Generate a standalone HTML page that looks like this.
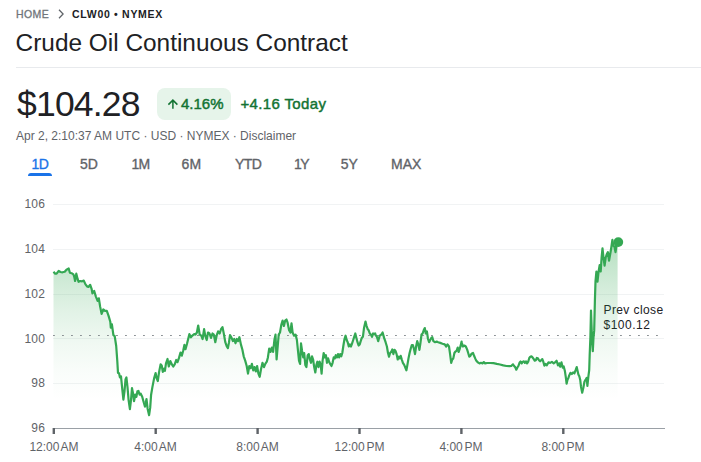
<!DOCTYPE html>
<html><head><meta charset="utf-8">
<style>
html,body{margin:0;padding:0;background:#fff;}
body{width:701px;height:462px;position:relative;overflow:hidden;font-family:"Liberation Sans",sans-serif;color:#202124;}
.a{position:absolute;white-space:nowrap;line-height:1;}
.bc{font-size:10.5px;top:9px;letter-spacing:.7px;font-weight:bold;}
.tab{font-size:14px;top:157px;color:#5f6368;-webkit-text-stroke:.35px currentColor;}
.yl{font-size:12px;color:#5f6368;text-align:right;width:45.2px;left:0;letter-spacing:.25px;}
.xl{font-size:12px;color:#5f6368;text-align:center;width:80px;top:441px;word-spacing:-1.5px;}
</style></head><body>
<span class="a bc" id="home" style="left:16px;color:#70757a;font-weight:normal;letter-spacing:.4px;-webkit-text-stroke:.3px #70757a;">HOME</span>
<svg class="a" style="left:57px;top:8px" width="9" height="12" viewBox="0 0 9 12"><path d="M2 1.8 L6.1 6 L2 10.2" fill="none" stroke="#5f6368" stroke-width="1.25"/></svg>
<span class="a bc" id="sym" style="left:72px;color:#202124;">CLW00 • NYMEX</span>
<span class="a" id="title" style="left:15.6px;top:30.6px;font-size:24.4px;color:#202124;">Crude Oil Continuous Contract</span>
<div class="a" style="left:16px;top:67px;width:685px;height:1px;background:#e8eaed;"></div>
<span class="a" id="price" style="left:17px;top:86.5px;font-size:35.5px;letter-spacing:-.8px;color:#202124;">$104.28</span>
<div class="a" style="left:157px;top:88px;width:74px;height:32px;border-radius:8px;background:#e6f4ea;"></div>
<svg class="a" style="left:166px;top:97px" width="14" height="13" viewBox="0 0 14 13"><path d="M6.9 11.8 V3.4 M2.4 7.6 L6.9 3.1 L11.4 7.6" fill="none" stroke="#137333" stroke-width="1.5"/></svg>
<span class="a" id="pct" style="left:181px;top:96px;font-size:15px;color:#137333;-webkit-text-stroke:.45px #137333;">4.16%</span>
<span class="a" id="today" style="left:240.5px;top:96px;font-size:15px;letter-spacing:.35px;color:#137333;-webkit-text-stroke:.45px #137333;">+4.16 Today</span>
<span class="a" id="sub" style="left:16px;top:130px;font-size:12px;color:#5f6368;">Apr 2, 2:10:37 AM UTC · USD · NYMEX · Disclaimer</span>
<span class="a tab" id="t1" style="left:31.6px;color:#1a73e8;letter-spacing:-.6px;">1D</span>
<div class="a" style="left:28px;top:173px;width:24px;height:3px;background:#1a73e8;border-radius:3px 3px 0 0;"></div>
<span class="a tab" id="t2" style="left:80px;">5D</span>
<span class="a tab" id="t3" style="left:131.4px;letter-spacing:-.8px;">1M</span>
<span class="a tab" id="t4" style="left:181.6px;">6M</span>
<span class="a tab" id="t5" style="left:235px;letter-spacing:-.6px;">YTD</span>
<span class="a tab" id="t6" style="left:294px;letter-spacing:-1.6px;">1Y</span>
<span class="a tab" id="t7" style="left:340.8px;">5Y</span>
<span class="a tab" id="t8" style="left:391px;">MAX</span>

<span class="a yl" style="top:198px;">106</span>
<span class="a yl" style="top:243px;">104</span>
<span class="a yl" style="top:288px;">102</span>
<span class="a yl" style="top:333px;">100</span>
<span class="a yl" style="top:377px;">98</span>
<span class="a yl" style="top:422px;">96</span>
<span class="a xl" style="left:14px;">12:00 AM</span>
<span class="a xl" style="left:115.5px;">4:00 AM</span>
<span class="a xl" style="left:217.5px;">8:00 AM</span>
<span class="a xl" style="left:319.5px;">12:00 PM</span>
<span class="a xl" style="left:421px;">4:00 PM</span>
<span class="a xl" style="left:523px;">8:00 PM</span>
<span class="a" id="pc1" style="left:603.5px;top:304px;font-size:12px;letter-spacing:.4px;color:#202124;">Prev close</span>
<span class="a" id="pc2" style="left:603.5px;top:319px;font-size:12px;letter-spacing:.5px;color:#202124;">$100.12</span>

<svg class="a" style="left:0;top:0" width="701" height="462" viewBox="0 0 701 462">
<defs><linearGradient id="g" gradientUnits="userSpaceOnUse" x1="0" y1="241" x2="0" y2="428"><stop offset="0" stop-color="#34a853" stop-opacity=".38"/><stop offset=".118" stop-color="#34a853" stop-opacity=".295"/><stop offset=".24" stop-color="#34a853" stop-opacity=".22"/><stop offset=".37" stop-color="#34a853" stop-opacity=".148"/><stop offset=".545" stop-color="#34a853" stop-opacity=".074"/><stop offset=".69" stop-color="#34a853" stop-opacity=".03"/><stop offset=".85" stop-color="#34a853" stop-opacity="0"/><stop offset="1" stop-color="#34a853" stop-opacity="0"/></linearGradient></defs>
<g stroke="#f1f3f4" stroke-width="1" shape-rendering="crispEdges">
<line x1="53" y1="204.5" x2="664" y2="204.5"/><line x1="53" y1="249.5" x2="664" y2="249.5"/><line x1="53" y1="294.5" x2="664" y2="294.5"/><line x1="53" y1="338.5" x2="664" y2="338.5"/><line x1="53" y1="383.5" x2="664" y2="383.5"/>
</g>
<line x1="52.5" y1="428.5" x2="665" y2="428.5" stroke="#9aa0a6" stroke-width="1" shape-rendering="crispEdges"/>
<g><rect x="52.6" y="428" width="2.4" height="6" fill="#5f6368"/><rect x="154.5" y="428" width="2.4" height="6" fill="#5f6368"/><rect x="256.4" y="428" width="2.4" height="6" fill="#5f6368"/><rect x="358.3" y="428" width="2.4" height="6" fill="#5f6368"/><rect x="460.2" y="428" width="2.4" height="6" fill="#5f6368"/><rect x="562.1" y="428" width="2.4" height="6" fill="#5f6368"/></g>
<!--CHART-->
<path d="M53.5,271.8 L55.2,273.7 L56.6,273.7 L58.7,270.9 L60.4,272.0 L62.5,272.3 L64.7,271.8 L66.5,269.7 L68.7,268.5 L69.9,272.8 L71.6,273.2 L73.4,274.4 L74.2,276.6 L75.1,281.0 L76.3,273.7 L77.7,279.2 L78.6,281.8 L80.3,281.0 L82.0,281.3 L83.8,280.6 L85.5,284.4 L87.2,286.5 L88.4,287.0 L90.2,284.8 L91.6,288.8 L92.4,293.4 L94.2,291.0 L95.9,296.6 L97.6,300.9 L98.8,298.3 L100.2,306.9 L101.6,313.9 L103.3,309.5 L105.1,310.8 L106.8,310.8 L108.5,315.6 L110.3,321.7 L110.8,327.6 L111.9,324.3 L113.4,335.2 L114.7,336.2 L116.2,346.0 L117.3,361.1 L118.0,373.0 L119.0,373.0 L119.9,377.4 L121.0,376.3 L122.3,389.3 L123.4,399.7 L124.5,391.4 L125.5,379.5 L126.4,377.4 L127.5,387.1 L128.6,400.1 L129.9,409.2 L131.0,400.1 L132.0,388.2 L133.1,393.6 L134.0,401.2 L135.3,394.7 L136.4,396.8 L137.4,391.4 L138.5,391.0 L139.6,394.7 L140.7,393.6 L142.2,396.8 L143.7,402.3 L145.0,406.6 L146.5,399.0 L147.6,408.7 L149.1,415.2 L150.2,407.7 L151.1,394.7 L152.4,387.1 L154.1,378.4 L155.6,373.0 L156.7,378.4 L157.8,381.0 L159.1,371.9 L160.6,364.4 L161.7,365.5 L162.8,371.9 L164.1,368.7 L164.9,370.9 L166.0,363.3 L167.5,359.0 L168.8,366.5 L170.3,361.1 L171.9,364.4 L173.2,366.5 L174.7,364.4 L176.2,360.0 L177.5,362.2 L179.0,357.9 L180.5,352.5 L181.8,355.7 L183.3,350.3 L184.4,344.9 L185.5,349.2 L187.0,343.8 L188.3,338.4 L189.4,334.1 L190.9,337.3 L192.4,335.6 L194.2,334.1 L195.4,334.6 L196.9,332.5 L198.2,325.5 L199.7,334.6 L201.3,335.7 L202.6,339.0 L204.1,329.2 L205.2,335.7 L206.7,340.0 L208.0,332.5 L209.5,333.5 L211.0,337.9 L212.5,333.5 L213.8,334.6 L215.3,342.2 L216.6,335.7 L218.1,331.4 L219.7,333.5 L221.0,329.2 L222.5,327.1 L224.0,334.6 L225.3,342.2 L226.8,346.5 L227.9,348.1 L229.0,342.2 L230.0,335.1 L231.6,337.9 L232.9,341.1 L234.2,339.0 L235.5,343.3 L236.8,339.0 L238.1,341.1 L239.4,337.2 L240.9,344.4 L242.4,349.8 L243.7,356.3 L245.2,360.6 L246.7,366.0 L248.0,373.6 L249.3,366.0 L250.6,368.2 L251.9,363.9 L253.2,370.3 L254.5,367.1 L255.8,371.4 L257.1,366.0 L258.4,373.6 L259.7,376.8 L261.0,369.3 L262.5,362.8 L264.0,367.1 L265.3,363.9 L266.8,361.7 L267.9,357.4 L269.2,348.7 L270.5,351.9 L271.8,347.6 L273.1,351.9 L274.4,340.0 L275.5,334.6 L276.6,359.5 L277.7,346.5 L278.7,334.6 L280.0,332.5 L281.3,324.9 L282.6,320.6 L283.9,326.0 L285.2,320.6 L286.5,319.5 L287.6,322.7 L289.1,330.3 L290.4,332.5 L291.5,323.4 L292.6,332.5 L294.1,335.7 L295.6,334.6 L296.9,340.0 L298.0,350.9 L299.0,360.6 L300.1,363.9 L301.0,343.3 L302.1,350.9 L303.2,357.4 L304.2,353.0 L305.3,364.9 L306.4,367.1 L307.7,355.2 L308.8,354.1 L309.9,359.5 L311.0,362.8 L312.0,356.3 L313.1,359.5 L314.2,367.1 L315.3,372.5 L316.4,364.9 L317.4,361.7 L318.5,367.1 L319.6,361.7 L320.7,364.9 L321.6,373.6 L322.6,360.6 L323.7,353.0 L324.8,357.4 L325.9,355.2 L327.0,362.8 L328.1,358.4 L329.1,361.7 L330.2,363.9 L331.5,366.0 L332.6,362.8 L333.7,357.4 L334.8,358.4 L335.8,355.2 L336.9,357.4 L338.0,354.1 L339.1,357.4 L340.2,354.1 L341.3,356.3 L342.3,353.0 L343.4,345.5 L344.5,339.0 L345.6,335.7 L346.7,340.0 L347.7,342.2 L348.8,346.5 L349.9,344.4 L351.0,346.5 L352.1,343.3 L353.2,340.0 L354.2,336.8 L355.3,333.5 L356.4,337.9 L357.5,342.2 L358.6,345.5 L359.7,344.4 L360.7,341.1 L361.8,337.9 L362.9,336.8 L364.0,328.1 L365.5,321.6 L366.6,326.0 L367.7,329.2 L368.7,330.3 L369.8,333.5 L370.9,334.6 L372.0,336.8 L373.1,333.5 L374.2,334.2 L375.2,333.5 L375.4,334.6 L376.9,336.8 L378.2,341.1 L379.7,335.7 L381.3,334.6 L382.6,332.5 L384.1,337.9 L385.6,342.2 L386.9,346.5 L388.0,353.0 L389.0,356.7 L390.1,353.0 L391.2,351.9 L392.3,349.4 L393.4,354.1 L394.5,349.8 L395.5,350.9 L396.6,354.1 L397.7,359.5 L398.8,356.7 L399.9,358.4 L400.7,355.8 L401.8,359.5 L402.9,362.8 L404.2,364.9 L405.3,367.5 L406.4,370.3 L407.4,364.9 L408.5,358.4 L409.6,353.0 L410.7,348.7 L411.8,345.0 L412.9,345.0 L413.9,348.7 L415.0,354.1 L416.1,346.5 L417.2,341.1 L418.3,344.4 L419.4,349.8 L420.4,343.3 L421.5,334.6 L422.6,333.5 L423.7,330.3 L424.8,328.1 L425.8,333.5 L426.9,331.4 L428.0,339.0 L429.1,342.2 L430.2,340.0 L431.3,337.9 L432.3,337.2 L433.4,341.1 L434.9,342.2 L436.7,341.6 L438.2,342.2 L440.3,342.9 L442.5,343.7 L444.7,344.4 L446.2,346.5 L447.5,344.4 L449.0,346.5 L450.1,354.1 L451.2,362.8 L452.3,359.5 L453.3,358.4 L454.4,353.0 L455.5,351.5 L456.6,350.9 L457.7,347.6 L458.7,351.9 L459.8,348.7 L460.9,344.4 L461.6,341.6 L461.7,342.2 L462.8,346.5 L464.3,345.5 L465.8,346.5 L467.1,349.4 L468.2,353.0 L469.3,356.7 L470.4,355.8 L471.5,353.7 L473.0,353.0 L474.1,355.8 L475.2,358.4 L476.2,360.6 L477.7,362.3 L479.5,363.4 L481.0,362.8 L482.5,363.4 L483.8,362.1 L485.1,363.4 L487.1,363.0 L490.3,363.0 L493.5,363.2 L496.8,363.9 L500.0,364.5 L503.3,365.4 L506.5,366.0 L509.4,366.2 L511.5,365.8 L513.0,364.3 L514.1,366.0 L515.2,367.1 L516.3,369.7 L517.4,367.5 L518.4,366.0 L519.5,362.8 L520.6,361.5 L521.7,363.4 L522.8,361.7 L523.9,361.3 L524.9,362.8 L526.0,361.3 L527.1,363.4 L528.2,361.7 L529.3,358.0 L530.3,356.7 L531.4,356.3 L532.5,357.4 L533.6,358.9 L534.7,360.6 L535.8,360.2 L536.8,358.0 L537.9,358.4 L539.0,360.2 L540.1,361.3 L541.2,360.2 L542.3,359.1 L543.3,361.7 L544.4,365.6 L545.5,363.9 L546.7,365.4 L548.5,362.4 L550.2,362.9 L551.9,361.9 L553.7,363.3 L555.0,362.4 L556.6,360.7 L558.0,365.4 L559.2,363.3 L560.2,366.8 L561.5,362.4 L562.7,367.6 L563.7,366.4 L564.9,371.1 L565.8,377.1 L566.6,383.7 L567.5,379.7 L568.4,378.0 L569.2,375.4 L570.5,372.8 L571.8,374.0 L573.1,372.5 L574.4,373.3 L575.6,370.2 L576.7,367.1 L577.6,371.1 L578.4,374.5 L579.3,376.3 L580.2,379.7 L581.0,386.7 L582.2,392.7 L583.4,387.5 L584.5,381.5 L585.7,379.7 L586.6,378.0 L587.4,385.8 L588.3,377.1 L589.2,370.2 L589.7,354.6 L590.4,337.3 L591.0,310.5 L592.1,340.8 L592.8,351.2 L593.5,337.3 L594.2,330.4 L594.9,300.8 L595.5,281.3 L596.4,271.5 L597.5,281.7 L598.6,271.5 L599.7,265.0 L600.7,271.5 L601.6,257.5 L602.5,248.4 L603.5,257.5 L604.6,265.7 L605.7,257.5 L606.8,254.2 L607.9,252.1 L609.0,260.7 L610.0,255.3 L611.1,248.8 L612.4,239.9 L613.3,245.6 L614.4,246.6 L615.5,252.1 L616.5,245.6 L617.6,242.7 L617.6,428 L53.5,428 Z" fill="url(#g)" stroke="none"/>
<g><rect x="53.1" y="335" width="1.7" height="1" fill="#80868b"/><rect x="62.1" y="335" width="1.7" height="1" fill="#80868b"/><rect x="71.1" y="335" width="1.7" height="1" fill="#80868b"/><rect x="80.1" y="335" width="1.7" height="1" fill="#80868b"/><rect x="89.1" y="335" width="1.7" height="1" fill="#80868b"/><rect x="98.1" y="335" width="1.7" height="1" fill="#80868b"/><rect x="107.1" y="335" width="1.7" height="1" fill="#80868b"/><rect x="116.1" y="335" width="1.7" height="1" fill="#80868b"/><rect x="125.1" y="335" width="1.7" height="1" fill="#80868b"/><rect x="134.1" y="335" width="1.7" height="1" fill="#80868b"/><rect x="143.1" y="335" width="1.7" height="1" fill="#80868b"/><rect x="152.1" y="335" width="1.7" height="1" fill="#80868b"/><rect x="161.1" y="335" width="1.7" height="1" fill="#80868b"/><rect x="170.1" y="335" width="1.7" height="1" fill="#80868b"/><rect x="179.1" y="335" width="1.7" height="1" fill="#80868b"/><rect x="188.1" y="335" width="1.7" height="1" fill="#80868b"/><rect x="197.1" y="335" width="1.7" height="1" fill="#80868b"/><rect x="206.1" y="335" width="1.7" height="1" fill="#80868b"/><rect x="215.1" y="335" width="1.7" height="1" fill="#80868b"/><rect x="224.1" y="335" width="1.7" height="1" fill="#80868b"/><rect x="233.1" y="335" width="1.7" height="1" fill="#80868b"/><rect x="242.1" y="335" width="1.7" height="1" fill="#80868b"/><rect x="251.1" y="335" width="1.7" height="1" fill="#80868b"/><rect x="260.1" y="335" width="1.7" height="1" fill="#80868b"/><rect x="269.1" y="335" width="1.7" height="1" fill="#80868b"/><rect x="278.1" y="335" width="1.7" height="1" fill="#80868b"/><rect x="287.1" y="335" width="1.7" height="1" fill="#80868b"/><rect x="296.1" y="335" width="1.7" height="1" fill="#80868b"/><rect x="305.1" y="335" width="1.7" height="1" fill="#80868b"/><rect x="314.1" y="335" width="1.7" height="1" fill="#80868b"/><rect x="323.1" y="335" width="1.7" height="1" fill="#80868b"/><rect x="332.1" y="335" width="1.7" height="1" fill="#80868b"/><rect x="341.1" y="335" width="1.7" height="1" fill="#80868b"/><rect x="350.1" y="335" width="1.7" height="1" fill="#80868b"/><rect x="359.1" y="335" width="1.7" height="1" fill="#80868b"/><rect x="368.1" y="335" width="1.7" height="1" fill="#80868b"/><rect x="377.1" y="335" width="1.7" height="1" fill="#80868b"/><rect x="386.1" y="335" width="1.7" height="1" fill="#80868b"/><rect x="395.1" y="335" width="1.7" height="1" fill="#80868b"/><rect x="404.1" y="335" width="1.7" height="1" fill="#80868b"/><rect x="413.1" y="335" width="1.7" height="1" fill="#80868b"/><rect x="422.1" y="335" width="1.7" height="1" fill="#80868b"/><rect x="431.1" y="335" width="1.7" height="1" fill="#80868b"/><rect x="440.1" y="335" width="1.7" height="1" fill="#80868b"/><rect x="449.1" y="335" width="1.7" height="1" fill="#80868b"/><rect x="458.1" y="335" width="1.7" height="1" fill="#80868b"/><rect x="467.1" y="335" width="1.7" height="1" fill="#80868b"/><rect x="476.1" y="335" width="1.7" height="1" fill="#80868b"/><rect x="485.1" y="335" width="1.7" height="1" fill="#80868b"/><rect x="494.1" y="335" width="1.7" height="1" fill="#80868b"/><rect x="503.1" y="335" width="1.7" height="1" fill="#80868b"/><rect x="512.1" y="335" width="1.7" height="1" fill="#80868b"/><rect x="521.1" y="335" width="1.7" height="1" fill="#80868b"/><rect x="530.1" y="335" width="1.7" height="1" fill="#80868b"/><rect x="539.1" y="335" width="1.7" height="1" fill="#80868b"/><rect x="548.1" y="335" width="1.7" height="1" fill="#80868b"/><rect x="557.1" y="335" width="1.7" height="1" fill="#80868b"/><rect x="566.1" y="335" width="1.7" height="1" fill="#80868b"/><rect x="575.1" y="335" width="1.7" height="1" fill="#80868b"/><rect x="584.1" y="335" width="1.7" height="1" fill="#80868b"/><rect x="593.1" y="335" width="1.7" height="1" fill="#80868b"/><rect x="602.1" y="335" width="1.7" height="1" fill="#80868b"/><rect x="611.1" y="335" width="1.7" height="1" fill="#80868b"/><rect x="620.1" y="335" width="1.7" height="1" fill="#80868b"/><rect x="629.1" y="335" width="1.7" height="1" fill="#80868b"/><rect x="638.1" y="335" width="1.7" height="1" fill="#80868b"/><rect x="647.1" y="335" width="1.7" height="1" fill="#80868b"/><rect x="656.1" y="335" width="1.7" height="1" fill="#80868b"/></g>
<path d="M53.5,271.8 L55.2,273.7 L56.6,273.7 L58.7,270.9 L60.4,272.0 L62.5,272.3 L64.7,271.8 L66.5,269.7 L68.7,268.5 L69.9,272.8 L71.6,273.2 L73.4,274.4 L74.2,276.6 L75.1,281.0 L76.3,273.7 L77.7,279.2 L78.6,281.8 L80.3,281.0 L82.0,281.3 L83.8,280.6 L85.5,284.4 L87.2,286.5 L88.4,287.0 L90.2,284.8 L91.6,288.8 L92.4,293.4 L94.2,291.0 L95.9,296.6 L97.6,300.9 L98.8,298.3 L100.2,306.9 L101.6,313.9 L103.3,309.5 L105.1,310.8 L106.8,310.8 L108.5,315.6 L110.3,321.7 L110.8,327.6 L111.9,324.3 L113.4,335.2 L114.7,336.2 L116.2,346.0 L117.3,361.1 L118.0,373.0 L119.0,373.0 L119.9,377.4 L121.0,376.3 L122.3,389.3 L123.4,399.7 L124.5,391.4 L125.5,379.5 L126.4,377.4 L127.5,387.1 L128.6,400.1 L129.9,409.2 L131.0,400.1 L132.0,388.2 L133.1,393.6 L134.0,401.2 L135.3,394.7 L136.4,396.8 L137.4,391.4 L138.5,391.0 L139.6,394.7 L140.7,393.6 L142.2,396.8 L143.7,402.3 L145.0,406.6 L146.5,399.0 L147.6,408.7 L149.1,415.2 L150.2,407.7 L151.1,394.7 L152.4,387.1 L154.1,378.4 L155.6,373.0 L156.7,378.4 L157.8,381.0 L159.1,371.9 L160.6,364.4 L161.7,365.5 L162.8,371.9 L164.1,368.7 L164.9,370.9 L166.0,363.3 L167.5,359.0 L168.8,366.5 L170.3,361.1 L171.9,364.4 L173.2,366.5 L174.7,364.4 L176.2,360.0 L177.5,362.2 L179.0,357.9 L180.5,352.5 L181.8,355.7 L183.3,350.3 L184.4,344.9 L185.5,349.2 L187.0,343.8 L188.3,338.4 L189.4,334.1 L190.9,337.3 L192.4,335.6 L194.2,334.1 L195.4,334.6 L196.9,332.5 L198.2,325.5 L199.7,334.6 L201.3,335.7 L202.6,339.0 L204.1,329.2 L205.2,335.7 L206.7,340.0 L208.0,332.5 L209.5,333.5 L211.0,337.9 L212.5,333.5 L213.8,334.6 L215.3,342.2 L216.6,335.7 L218.1,331.4 L219.7,333.5 L221.0,329.2 L222.5,327.1 L224.0,334.6 L225.3,342.2 L226.8,346.5 L227.9,348.1 L229.0,342.2 L230.0,335.1 L231.6,337.9 L232.9,341.1 L234.2,339.0 L235.5,343.3 L236.8,339.0 L238.1,341.1 L239.4,337.2 L240.9,344.4 L242.4,349.8 L243.7,356.3 L245.2,360.6 L246.7,366.0 L248.0,373.6 L249.3,366.0 L250.6,368.2 L251.9,363.9 L253.2,370.3 L254.5,367.1 L255.8,371.4 L257.1,366.0 L258.4,373.6 L259.7,376.8 L261.0,369.3 L262.5,362.8 L264.0,367.1 L265.3,363.9 L266.8,361.7 L267.9,357.4 L269.2,348.7 L270.5,351.9 L271.8,347.6 L273.1,351.9 L274.4,340.0 L275.5,334.6 L276.6,359.5 L277.7,346.5 L278.7,334.6 L280.0,332.5 L281.3,324.9 L282.6,320.6 L283.9,326.0 L285.2,320.6 L286.5,319.5 L287.6,322.7 L289.1,330.3 L290.4,332.5 L291.5,323.4 L292.6,332.5 L294.1,335.7 L295.6,334.6 L296.9,340.0 L298.0,350.9 L299.0,360.6 L300.1,363.9 L301.0,343.3 L302.1,350.9 L303.2,357.4 L304.2,353.0 L305.3,364.9 L306.4,367.1 L307.7,355.2 L308.8,354.1 L309.9,359.5 L311.0,362.8 L312.0,356.3 L313.1,359.5 L314.2,367.1 L315.3,372.5 L316.4,364.9 L317.4,361.7 L318.5,367.1 L319.6,361.7 L320.7,364.9 L321.6,373.6 L322.6,360.6 L323.7,353.0 L324.8,357.4 L325.9,355.2 L327.0,362.8 L328.1,358.4 L329.1,361.7 L330.2,363.9 L331.5,366.0 L332.6,362.8 L333.7,357.4 L334.8,358.4 L335.8,355.2 L336.9,357.4 L338.0,354.1 L339.1,357.4 L340.2,354.1 L341.3,356.3 L342.3,353.0 L343.4,345.5 L344.5,339.0 L345.6,335.7 L346.7,340.0 L347.7,342.2 L348.8,346.5 L349.9,344.4 L351.0,346.5 L352.1,343.3 L353.2,340.0 L354.2,336.8 L355.3,333.5 L356.4,337.9 L357.5,342.2 L358.6,345.5 L359.7,344.4 L360.7,341.1 L361.8,337.9 L362.9,336.8 L364.0,328.1 L365.5,321.6 L366.6,326.0 L367.7,329.2 L368.7,330.3 L369.8,333.5 L370.9,334.6 L372.0,336.8 L373.1,333.5 L374.2,334.2 L375.2,333.5 L375.4,334.6 L376.9,336.8 L378.2,341.1 L379.7,335.7 L381.3,334.6 L382.6,332.5 L384.1,337.9 L385.6,342.2 L386.9,346.5 L388.0,353.0 L389.0,356.7 L390.1,353.0 L391.2,351.9 L392.3,349.4 L393.4,354.1 L394.5,349.8 L395.5,350.9 L396.6,354.1 L397.7,359.5 L398.8,356.7 L399.9,358.4 L400.7,355.8 L401.8,359.5 L402.9,362.8 L404.2,364.9 L405.3,367.5 L406.4,370.3 L407.4,364.9 L408.5,358.4 L409.6,353.0 L410.7,348.7 L411.8,345.0 L412.9,345.0 L413.9,348.7 L415.0,354.1 L416.1,346.5 L417.2,341.1 L418.3,344.4 L419.4,349.8 L420.4,343.3 L421.5,334.6 L422.6,333.5 L423.7,330.3 L424.8,328.1 L425.8,333.5 L426.9,331.4 L428.0,339.0 L429.1,342.2 L430.2,340.0 L431.3,337.9 L432.3,337.2 L433.4,341.1 L434.9,342.2 L436.7,341.6 L438.2,342.2 L440.3,342.9 L442.5,343.7 L444.7,344.4 L446.2,346.5 L447.5,344.4 L449.0,346.5 L450.1,354.1 L451.2,362.8 L452.3,359.5 L453.3,358.4 L454.4,353.0 L455.5,351.5 L456.6,350.9 L457.7,347.6 L458.7,351.9 L459.8,348.7 L460.9,344.4 L461.6,341.6 L461.7,342.2 L462.8,346.5 L464.3,345.5 L465.8,346.5 L467.1,349.4 L468.2,353.0 L469.3,356.7 L470.4,355.8 L471.5,353.7 L473.0,353.0 L474.1,355.8 L475.2,358.4 L476.2,360.6 L477.7,362.3 L479.5,363.4 L481.0,362.8 L482.5,363.4 L483.8,362.1 L485.1,363.4 L487.1,363.0 L490.3,363.0 L493.5,363.2 L496.8,363.9 L500.0,364.5 L503.3,365.4 L506.5,366.0 L509.4,366.2 L511.5,365.8 L513.0,364.3 L514.1,366.0 L515.2,367.1 L516.3,369.7 L517.4,367.5 L518.4,366.0 L519.5,362.8 L520.6,361.5 L521.7,363.4 L522.8,361.7 L523.9,361.3 L524.9,362.8 L526.0,361.3 L527.1,363.4 L528.2,361.7 L529.3,358.0 L530.3,356.7 L531.4,356.3 L532.5,357.4 L533.6,358.9 L534.7,360.6 L535.8,360.2 L536.8,358.0 L537.9,358.4 L539.0,360.2 L540.1,361.3 L541.2,360.2 L542.3,359.1 L543.3,361.7 L544.4,365.6 L545.5,363.9 L546.7,365.4 L548.5,362.4 L550.2,362.9 L551.9,361.9 L553.7,363.3 L555.0,362.4 L556.6,360.7 L558.0,365.4 L559.2,363.3 L560.2,366.8 L561.5,362.4 L562.7,367.6 L563.7,366.4 L564.9,371.1 L565.8,377.1 L566.6,383.7 L567.5,379.7 L568.4,378.0 L569.2,375.4 L570.5,372.8 L571.8,374.0 L573.1,372.5 L574.4,373.3 L575.6,370.2 L576.7,367.1 L577.6,371.1 L578.4,374.5 L579.3,376.3 L580.2,379.7 L581.0,386.7 L582.2,392.7 L583.4,387.5 L584.5,381.5 L585.7,379.7 L586.6,378.0 L587.4,385.8 L588.3,377.1 L589.2,370.2 L589.7,354.6 L590.4,337.3 L591.0,310.5 L592.1,340.8 L592.8,351.2 L593.5,337.3 L594.2,330.4 L594.9,300.8 L595.5,281.3 L596.4,271.5 L597.5,281.7 L598.6,271.5 L599.7,265.0 L600.7,271.5 L601.6,257.5 L602.5,248.4 L603.5,257.5 L604.6,265.7 L605.7,257.5 L606.8,254.2 L607.9,252.1 L609.0,260.7 L610.0,255.3 L611.1,248.8 L612.4,239.9 L613.3,245.6 L614.4,246.6 L615.5,252.1 L616.5,245.6 L617.6,242.7" fill="none" stroke="#34a853" stroke-width="2.2" stroke-linejoin="round" stroke-linecap="butt"/>
<circle cx="618.3" cy="242.1" r="4.9" fill="#34a853"/>
<!--/CHART-->
</svg>
</body></html>
